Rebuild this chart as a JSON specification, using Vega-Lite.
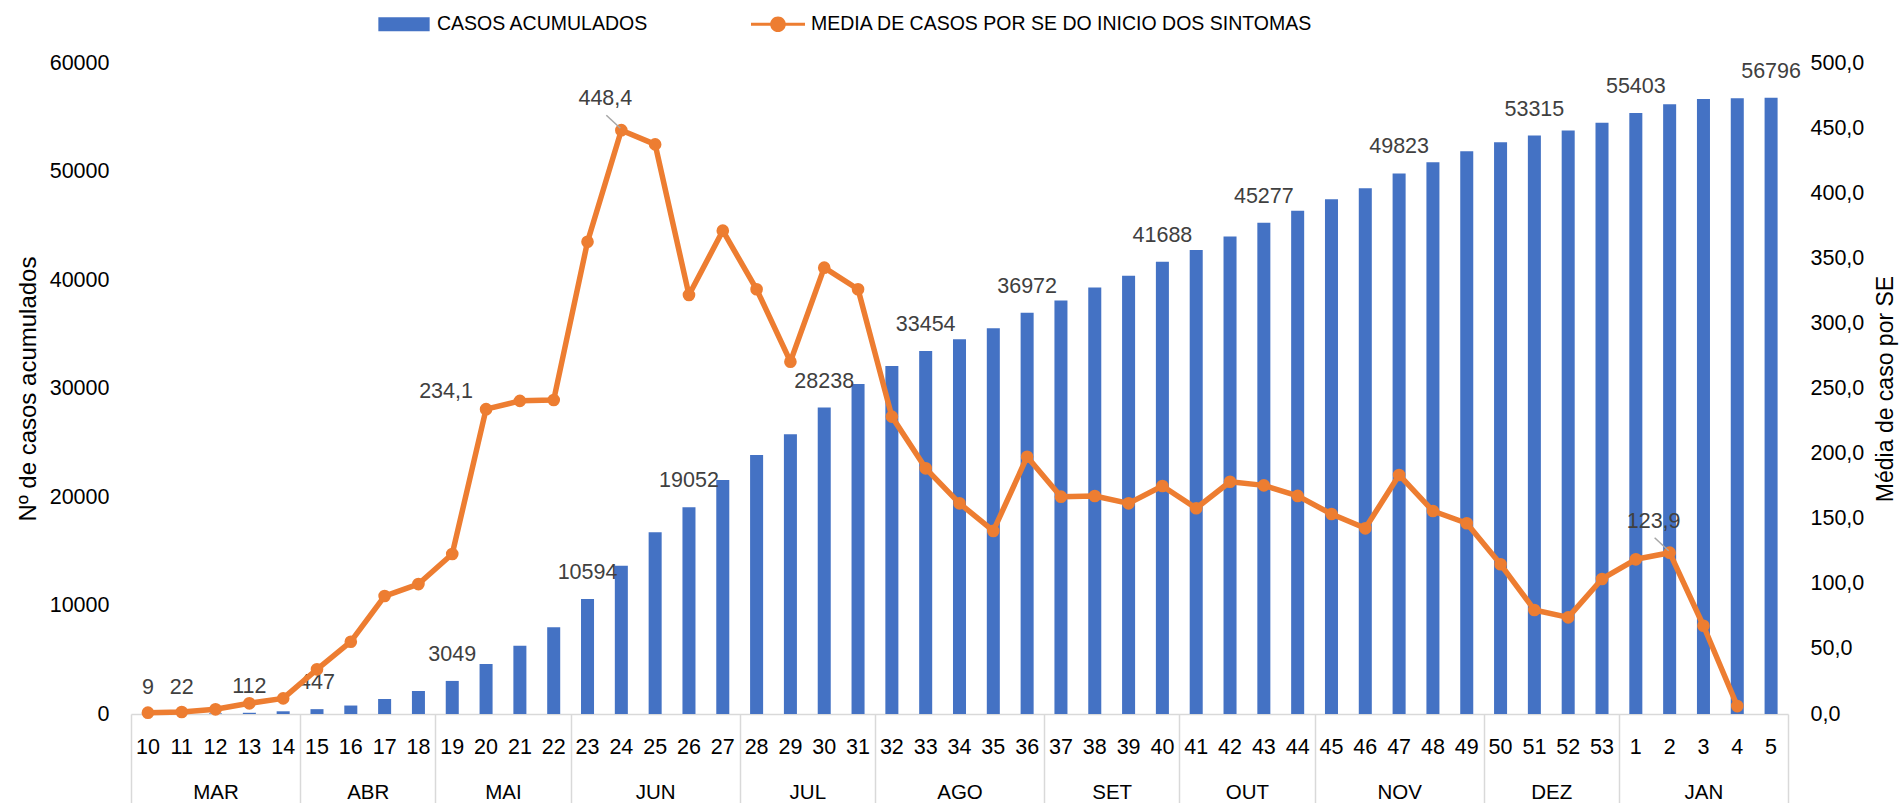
{
  "$schema": "https://vega.github.io/schema/vega-lite/v6.json",
  "width": 1657,
  "height": 651,
  "autosize": {"type": "none"},
  "padding": {"left": 131, "top": 63, "right": 116, "bottom": 89},
  "config": {
    "view": {"stroke": null},
    "font": "Liberation Sans",
    "locale": {"number": {"decimal": ",", "thousands": ".", "grouping": [3], "currency": ["R$", ""]}},
    "axis": {"labelFont": "Liberation Sans", "titleFont": "Liberation Sans", "grid": false, "labelColor": "#000000", "titleColor": "#000000", "titleFontWeight": "normal"}
  },
  "datasets": {
    "semanas": [
      {"semana": "10", "casos": 9, "media": 1.0},
      {"semana": "11", "casos": 22, "media": 1.5},
      {"semana": "12", "casos": 55, "media": 3.6},
      {"semana": "13", "casos": 112, "media": 8.2},
      {"semana": "14", "casos": 250, "media": 12.0},
      {"semana": "15", "casos": 447, "media": 34.3},
      {"semana": "16", "casos": 780, "media": 55.5},
      {"semana": "17", "casos": 1390, "media": 90.6},
      {"semana": "18", "casos": 2120, "media": 99.8},
      {"semana": "19", "casos": 3049, "media": 122.9},
      {"semana": "20", "casos": 4610, "media": 234.1},
      {"semana": "21", "casos": 6300, "media": 240.5},
      {"semana": "22", "casos": 7990, "media": 241.2},
      {"semana": "23", "casos": 10594, "media": 362.7},
      {"semana": "24", "casos": 13670, "media": 448.4},
      {"semana": "25", "casos": 16750, "media": 437.5},
      {"semana": "26", "casos": 19052, "media": 321.8},
      {"semana": "27", "casos": 21570, "media": 371.2},
      {"semana": "28", "casos": 23870, "media": 326.2},
      {"semana": "29", "casos": 25780, "media": 270.6},
      {"semana": "30", "casos": 28238, "media": 342.8},
      {"semana": "31", "casos": 30420, "media": 326.2},
      {"semana": "32", "casos": 32080, "media": 228.4},
      {"semana": "33", "casos": 33454, "media": 188.7},
      {"semana": "34", "casos": 34530, "media": 161.8},
      {"semana": "35", "casos": 35550, "media": 140.6},
      {"semana": "36", "casos": 36972, "media": 197.6},
      {"semana": "37", "casos": 38100, "media": 166.9},
      {"semana": "38", "casos": 39300, "media": 167.4},
      {"semana": "39", "casos": 40400, "media": 161.8},
      {"semana": "40", "casos": 41688, "media": 175.1},
      {"semana": "41", "casos": 42770, "media": 158.0},
      {"semana": "42", "casos": 44000, "media": 178.4},
      {"semana": "43", "casos": 45277, "media": 175.6},
      {"semana": "44", "casos": 46390, "media": 167.5},
      {"semana": "45", "casos": 47440, "media": 153.6},
      {"semana": "46", "casos": 48450, "media": 142.6},
      {"semana": "47", "casos": 49823, "media": 183.6},
      {"semana": "48", "casos": 50850, "media": 155.9},
      {"semana": "49", "casos": 51860, "media": 146.5},
      {"semana": "50", "casos": 52690, "media": 115.0},
      {"semana": "51", "casos": 53315, "media": 79.9},
      {"semana": "52", "casos": 53770, "media": 74.2},
      {"semana": "53", "casos": 54500, "media": 103.7},
      {"semana": "1", "casos": 55403, "media": 118.8},
      {"semana": "2", "casos": 56190, "media": 123.9},
      {"semana": "3", "casos": 56685, "media": 67.8},
      {"semana": "4", "casos": 56750, "media": 6.1},
      {"semana": "5", "casos": 56796, "media": null}
    ],
    "meses": [
      {"mes": "MAR", "inicio": 0, "fim": 5},
      {"mes": "ABR", "inicio": 5, "fim": 9},
      {"mes": "MAI", "inicio": 9, "fim": 13},
      {"mes": "JUN", "inicio": 13, "fim": 18},
      {"mes": "JUL", "inicio": 18, "fim": 22},
      {"mes": "AGO", "inicio": 22, "fim": 27},
      {"mes": "SET", "inicio": 27, "fim": 31},
      {"mes": "OUT", "inicio": 31, "fim": 35},
      {"mes": "NOV", "inicio": 35, "fim": 40},
      {"mes": "DEZ", "inicio": 40, "fim": 44},
      {"mes": "JAN", "inicio": 44, "fim": 49}
    ]
  },
  "layer": [
    {
      "data": {"name": "semanas"},
      "layer": [
        {
          "layer": [
            {
              "mark": {"type": "bar", "width": {"band": 0.385}},
              "encoding": {
                "x": {"field": "semana", "type": "nominal", "sort": null, "scale": {"paddingInner": 0, "paddingOuter": 0},
                  "axis": {"title": null, "orient": "bottom", "labelAngle": 0, "labelFontSize": 21.5, "labelPadding": 22.4, "ticks": false, "tickSize": 0, "domainColor": "#d9d9d9", "domainWidth": 1.5, "labelOverlap": false, "labelColor": "#000000"}},
                "y": {"field": "casos", "type": "quantitative", "scale": {"domain": [0, 60000], "nice": false},
                  "axis": {"title": "Nº de casos acumulados", "orient": "left", "values": [0, 10000, 20000, 30000, 40000, 50000, 60000], "format": "d", "domain": false, "ticks": false, "tickSize": 0, "labelPadding": 22, "labelFontSize": 21.5, "titleFontSize": 24, "titlePadding": 9, "grid": false}},
                "color": {"datum": "CASOS ACUMULADOS", "type": "nominal",
                  "scale": {"domain": ["CASOS ACUMULADOS", "MEDIA DE CASOS POR SE DO INICIO DOS SINTOMAS"], "range": ["#4472C4", "#ED7D31"]},
                  "legend": {"title": null, "orient": "none", "legendX": 246, "legendY": -66, "direction": "horizontal", "symbolSize": 2916, "labelFontSize": 19.5, "labelFont": "Liberation Sans", "labelColor": "#000000", "labelOffset": 6, "labelLimit": 0, "columnPadding": 102, "padding": 0,
                    "encode": {"symbols": {"update": {
                      "shape": {"signal": "datum.value === 'CASOS ACUMULADOS' ? 'M-0.95,-0.26H0.95V0.26H-0.95Z' : 'M-1,-0.055H1V0.055H-1Z M0.29,0A0.29,0.29 0 1,1 -0.29,0A0.29,0.29 0 1,1 0.29,0Z'"},
                      "fill": {"signal": "datum.value === 'CASOS ACUMULADOS' ? '#4472C4' : '#ED7D31'"},
                      "stroke": {"value": "transparent"},
                      "strokeWidth": {"value": 0},
                      "opacity": {"value": 1},
                      "fillOpacity": {"value": 1}}}}}}
              }
            },
            {
              "transform": [{"filter": {"field": "semana", "oneOf": ["10", "11", "13", "15", "19", "23", "26", "30", "33", "36", "40", "43", "47", "51", "1", "5"]}}],
              "mark": {"type": "text", "dy": -26, "baseline": "middle", "fontSize": 21.5, "color": "#404040", "font": "Liberation Sans"},
              "encoding": {
                "x": {"field": "semana", "type": "nominal", "sort": null},
                "y": {"field": "casos", "type": "quantitative"},
                "text": {"field": "casos", "type": "quantitative", "format": "d"}
              }
            }
          ]
        },
        {
          "layer": [
            {
              "mark": {"type": "line", "strokeWidth": 5.5, "strokeJoin": "round"},
              "encoding": {
                "x": {"field": "semana", "type": "nominal", "sort": null},
                "y": {"field": "media", "type": "quantitative", "scale": {"domain": [0, 500], "nice": false},
                  "axis": {"title": "Média de caso por SE", "orient": "right", "values": [0, 50, 100, 150, 200, 250, 300, 350, 400, 450, 500], "format": ".1f", "domain": false, "ticks": false, "tickSize": 0, "labelPadding": 22, "labelFontSize": 21.5, "titleFontSize": 23, "titlePadding": 11, "titleAngle": 270, "titleBaseline": "top", "grid": false}},
                "color": {"datum": "MEDIA DE CASOS POR SE DO INICIO DOS SINTOMAS", "type": "nominal"}
              }
            },
            {
              "mark": {"type": "point", "filled": true, "size": 160, "opacity": 1},
              "encoding": {
                "x": {"field": "semana", "type": "nominal", "sort": null},
                "y": {"field": "media", "type": "quantitative"},
                "color": {"datum": "MEDIA DE CASOS POR SE DO INICIO DOS SINTOMAS", "type": "nominal"}
              }
            },
            {
              "transform": [{"filter": {"field": "semana", "oneOf": ["24", "2"]}}],
              "mark": {"type": "rule", "color": "#a6a6a6", "strokeWidth": 1.5, "xOffset": -1, "yOffset": -2, "x2Offset": -15, "y2Offset": -15},
              "encoding": {
                "x": {"field": "semana", "type": "nominal", "sort": null},
                "x2": {"field": "semana"},
                "y": {"field": "media", "type": "quantitative"},
                "y2": {"field": "media"}
              }
            },
            {
              "transform": [{"filter": {"field": "semana", "oneOf": ["24", "2"]}}],
              "mark": {"type": "text", "dx": -16, "dy": -31, "baseline": "middle", "fontSize": 21.5, "color": "#404040", "font": "Liberation Sans"},
              "encoding": {
                "x": {"field": "semana", "type": "nominal", "sort": null},
                "y": {"field": "media", "type": "quantitative"},
                "text": {"field": "media", "type": "quantitative", "format": ".1f"}
              }
            },
            {
              "transform": [{"filter": {"field": "semana", "equal": "20"}}],
              "mark": {"type": "text", "dx": -40, "dy": -17, "baseline": "middle", "fontSize": 21.5, "color": "#404040", "font": "Liberation Sans"},
              "encoding": {
                "x": {"field": "semana", "type": "nominal", "sort": null},
                "y": {"field": "media", "type": "quantitative"},
                "text": {"field": "media", "type": "quantitative", "format": ".1f"}
              }
            }
          ]
        }
      ],
      "resolve": {"scale": {"y": "independent"}}
    },
    {
      "data": {"name": "meses"},
      "mark": {"type": "point", "opacity": 0},
      "encoding": {
        "x": {"field": "inicio", "type": "quantitative", "scale": {"domain": [0, 49], "nice": false, "zero": false},
          "axis": {"title": null, "orient": "bottom", "values": [2.5, 7, 11, 15.5, 20, 24.5, 29, 33, 37.5, 42, 46.5],
            "labelExpr": "datum.value < 5 ? 'MAR' : datum.value < 9 ? 'ABR' : datum.value < 13 ? 'MAI' : datum.value < 18 ? 'JUN' : datum.value < 22 ? 'JUL' : datum.value < 27 ? 'AGO' : datum.value < 31 ? 'SET' : datum.value < 35 ? 'OUT' : datum.value < 40 ? 'NOV' : datum.value < 44 ? 'DEZ' : 'JAN'",
            "ticks": false, "tickSize": 0, "domain": false, "labelPadding": 68.8, "labelFontSize": 20.5, "labelOverlap": false, "labelFlush": false, "grid": false, "labelColor": "#000000"}}
      }
    },
    {
      "data": {"name": "meses"},
      "mark": {"type": "point", "opacity": 0},
      "encoding": {
        "x": {"field": "fim", "type": "quantitative", "scale": {"domain": [0, 49], "nice": false, "zero": false},
          "axis": {"title": null, "orient": "bottom", "values": [0, 5, 9, 13, 18, 22, 27, 31, 35, 40, 44, 49], "labels": false, "ticks": true, "tickSize": 95, "tickColor": "#d9d9d9", "tickWidth": 1.5, "domain": false, "grid": false}}
      }
    }
  ],
  "resolve": {"scale": {"x": "independent", "y": "independent"}}
}
